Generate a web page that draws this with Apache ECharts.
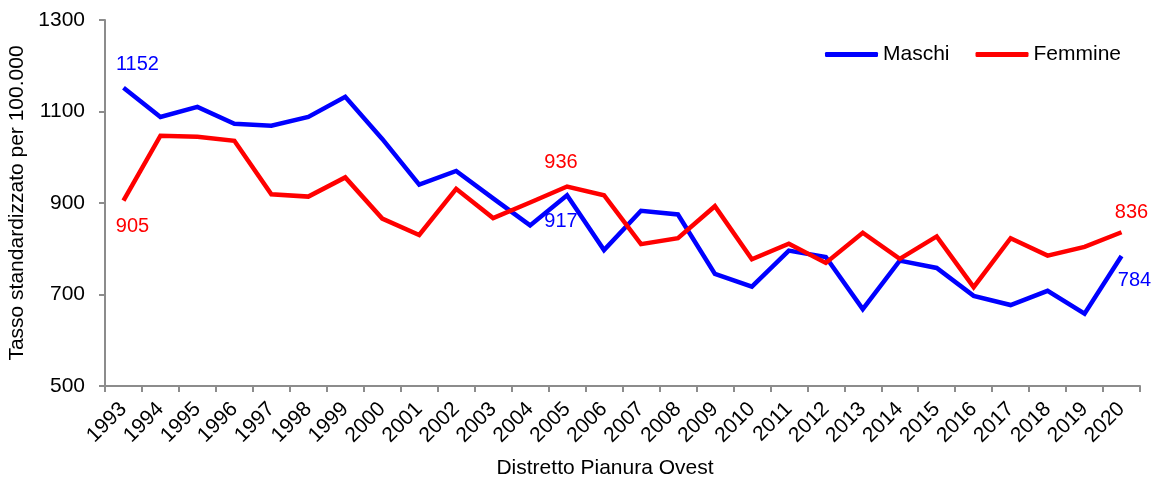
<!DOCTYPE html>
<html>
<head>
<meta charset="utf-8">
<script src="https://cdn.jsdelivr.net/npm/echarts@6/dist/echarts.min.js"></script>
<style>
  html, body { margin: 0; padding: 0; background: #ffffff; }
  #chart { width: 1158px; height: 479px; }
</style>
</head>
<body>
<div id="chart"></div>
<script>
// Tasso standardizzato per 100.000, Distretto Pianura Ovest, 1993-2020
const years = ['1993','1994','1995','1996','1997','1998','1999','2000','2001','2002',
  '2003','2004','2005','2006','2007','2008','2009','2010','2011','2012',
  '2013','2014','2015','2016','2017','2018','2019','2020'];
const maschi = [1152, 1088, 1110, 1073, 1069, 1088, 1132, 1040, 940, 970,
  910, 851, 917, 797, 883, 875, 745, 717, 796, 782,
  668, 774, 758, 697, 677, 708, 658, 784];
const femmine = [905, 1047, 1045, 1036, 919, 914, 956, 866, 830, 931,
  867, 901, 936, 917, 810, 823, 893, 777, 811, 769,
  835, 778, 827, 716, 823, 785, 804, 836];
const yTicks = [500, 700, 900, 1100, 1300];

// Which points carry a value label, and where the label sits relative to the point
const maschiLabels = { '1993': [14, -23], '2005': [-6, 26], '2020': [13, 24] };
const femmineLabels = { '1993': [9, 26], '2005': [-6, -24], '2020': [10, -20] };

const FONT = "'Liberation Sans', Arial, sans-serif";
const AXIS_GREY = '#8c8c8c';

function withLabels(values, labels, color) {
  return values.map((v, i) => {
    const off = labels[years[i]];
    if (!off) return v;
    return {
      value: v,
      label: {
        show: true,
        position: 'inside',
        offset: off,
        formatter: String(v),
        color: color,
        fontSize: 20,
        fontFamily: FONT
      }
    };
  });
}

const chart = echarts.init(document.getElementById('chart'), null, { renderer: 'canvas' });

chart.setOption({
  animation: false,
  backgroundColor: '#ffffff',
  textStyle: { fontFamily: FONT },
  grid: { left: 105, right: 18, top: 20, bottom: 93, containLabel: false, outerBoundsMode: 'none' },
  legend: {
    left: 820,
    top: 39,
    icon: 'roundRect',
    itemWidth: 53,
    itemHeight: 5,
    itemGap: 26,
    textStyle: { fontSize: 21, color: '#000', fontFamily: FONT },
    data: ['Maschi', 'Femmine']
  },
  xAxis: {
    type: 'category',
    data: years,
    boundaryGap: true,
    name: 'Distretto Pianura Ovest',
    nameLocation: 'middle',
    nameGap: 72,
    nameTextStyle: { fontSize: 21, color: '#000', fontFamily: FONT, padding: [0, 35, 0, 0] },
    axisLine: { lineStyle: { color: AXIS_GREY, width: 2 } },
    axisTick: { show: true, length: 6, alignWithLabel: false, lineStyle: { color: AXIS_GREY, width: 2 } },
    axisLabel: { interval: 0, rotate: 45, margin: 20, fontSize: 21, color: '#000', fontFamily: FONT },
    splitLine: { show: false }
  },
  yAxis: {
    type: 'value',
    min: yTicks[0],
    max: yTicks[yTicks.length - 1],
    interval: yTicks[1] - yTicks[0],
    name: 'Tasso standardizzato per 100.000',
    nameLocation: 'middle',
    nameGap: 60,
    nameTextStyle: { fontSize: 21, color: '#000', fontFamily: FONT },
    axisLine: { show: true, lineStyle: { color: AXIS_GREY, width: 2 } },
    axisTick: { show: true, length: 6, lineStyle: { color: AXIS_GREY, width: 2 } },
    axisLabel: { margin: 20, fontSize: 21, color: '#000', fontFamily: FONT, formatter: v => String(v) },
    splitLine: { show: false }
  },
  series: [
    {
      name: 'Maschi',
      type: 'line',
      data: withLabels(maschi, maschiLabels, '#0000ff'),
      symbol: 'circle',
      symbolSize: 0,
      showSymbol: true,
      lineStyle: { color: '#0000ff', width: 4.5, join: 'miter' },
      itemStyle: { color: '#0000ff' },
      z: 2
    },
    {
      name: 'Femmine',
      type: 'line',
      data: withLabels(femmine, femmineLabels, '#ff0000'),
      symbol: 'circle',
      symbolSize: 0,
      showSymbol: true,
      lineStyle: { color: '#ff0000', width: 4.5, join: 'miter' },
      itemStyle: { color: '#ff0000' },
      z: 3
    }
  ]
});
</script>
</body>
</html>
